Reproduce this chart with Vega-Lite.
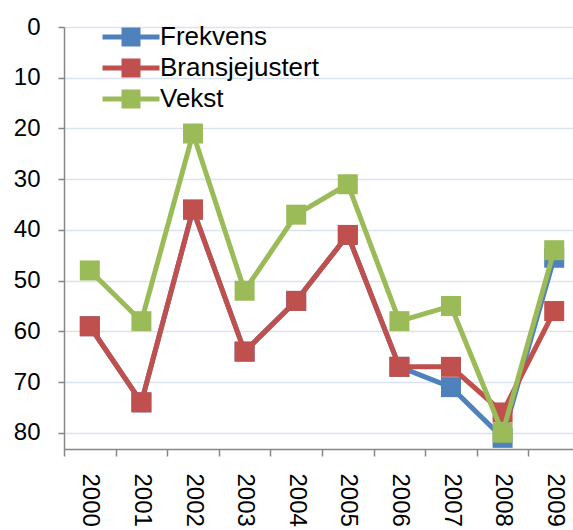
{
  "$schema": "https://vega.github.io/schema/vega-lite/v6.json",
  "autosize": "none",
  "width": 516,
  "height": 422,
  "padding": {"left": 64, "top": 27, "right": 0, "bottom": 81},
  "background": "white",
  "config": {
    "font": "Liberation Sans",
    "view": {"stroke": null},
    "axis": {"labelFont": "Liberation Sans", "labelFontSize": 24, "labelColor": "black", "domainColor": "#868686", "tickColor": "#868686", "domainWidth": 1.5, "tickWidth": 1.5, "gridColor": "#D9E2F1", "gridWidth": 1.5}
  },
  "data": {"values": [
    {"year": "2000", "series": "Frekvens", "v": 59},
    {"year": "2001", "series": "Frekvens", "v": 74},
    {"year": "2002", "series": "Frekvens", "v": 36},
    {"year": "2003", "series": "Frekvens", "v": 64},
    {"year": "2004", "series": "Frekvens", "v": 54},
    {"year": "2005", "series": "Frekvens", "v": 41},
    {"year": "2006", "series": "Frekvens", "v": 67},
    {"year": "2007", "series": "Frekvens", "v": 71},
    {"year": "2008", "series": "Frekvens", "v": 81},
    {"year": "2009", "series": "Frekvens", "v": 45.5},
    {"year": "2000", "series": "Bransjejustert", "v": 59},
    {"year": "2001", "series": "Bransjejustert", "v": 74},
    {"year": "2002", "series": "Bransjejustert", "v": 36},
    {"year": "2003", "series": "Bransjejustert", "v": 64},
    {"year": "2004", "series": "Bransjejustert", "v": 54},
    {"year": "2005", "series": "Bransjejustert", "v": 41},
    {"year": "2006", "series": "Bransjejustert", "v": 67},
    {"year": "2007", "series": "Bransjejustert", "v": 67},
    {"year": "2008", "series": "Bransjejustert", "v": 76},
    {"year": "2009", "series": "Bransjejustert", "v": 56},
    {"year": "2000", "series": "Vekst", "v": 48},
    {"year": "2001", "series": "Vekst", "v": 58},
    {"year": "2002", "series": "Vekst", "v": 21},
    {"year": "2003", "series": "Vekst", "v": 52},
    {"year": "2004", "series": "Vekst", "v": 37},
    {"year": "2005", "series": "Vekst", "v": 31},
    {"year": "2006", "series": "Vekst", "v": 58},
    {"year": "2007", "series": "Vekst", "v": 55},
    {"year": "2008", "series": "Vekst", "v": 80},
    {"year": "2009", "series": "Vekst", "v": 44}
  ]},
  "encoding": {
    "x": {"field": "year", "type": "ordinal", "scale": {"paddingInner": 0, "paddingOuter": 0},
      "axis": {"title": null, "labelAngle": 90, "labelAlign": "left", "labelBaseline": "middle", "tickBand": "extent", "tickSize": 7, "labelPadding": 17, "grid": false}},
    "y": {"field": "v", "type": "quantitative", "scale": {"domain": [0, 83.2], "reverse": true, "nice": false, "zero": false},
      "axis": {"title": null, "values": [0, 10, 20, 30, 40, 50, 60, 70, 80], "tickSize": 6, "labelPadding": 18, "grid": true}},
    "color": {"field": "series", "type": "nominal", "scale": {"domain": ["Frekvens", "Bransjejustert", "Vekst"], "range": ["#4F81BD", "#C0504D", "#9BBB59"]},
      "legend": {"title": null, "orient": "none", "legendX": 54, "legendY": -3, "symbolType": "M-2.85,-0.25H2.85V0.25H-2.85Z M-0.95,-0.95H0.95V0.95H-0.95Z", "symbolSize": 400, "symbolStrokeWidth": 0, "symbolOpacity": 1, "labelFontSize": 26, "labelFont": "Liberation Sans", "labelColor": "black", "rowPadding": 5, "labelOffset": 16, "symbolOffset": 0}}
  },
  "layer": [
    {"transform": [{"filter": "datum.series === 'Frekvens'"}], "mark": {"type": "line", "strokeWidth": 5}},
    {"transform": [{"filter": "datum.series === 'Frekvens'"}], "mark": {"type": "point", "shape": "square", "filled": true, "size": 400, "opacity": 1}},
    {"transform": [{"filter": "datum.series === 'Bransjejustert'"}], "mark": {"type": "line", "strokeWidth": 5}},
    {"transform": [{"filter": "datum.series === 'Bransjejustert'"}], "mark": {"type": "point", "shape": "square", "filled": true, "size": 400, "opacity": 1}},
    {"transform": [{"filter": "datum.series === 'Vekst'"}], "mark": {"type": "line", "strokeWidth": 5}},
    {"transform": [{"filter": "datum.series === 'Vekst'"}], "mark": {"type": "point", "shape": "square", "filled": true, "size": 400, "opacity": 1}}
  ]
}
